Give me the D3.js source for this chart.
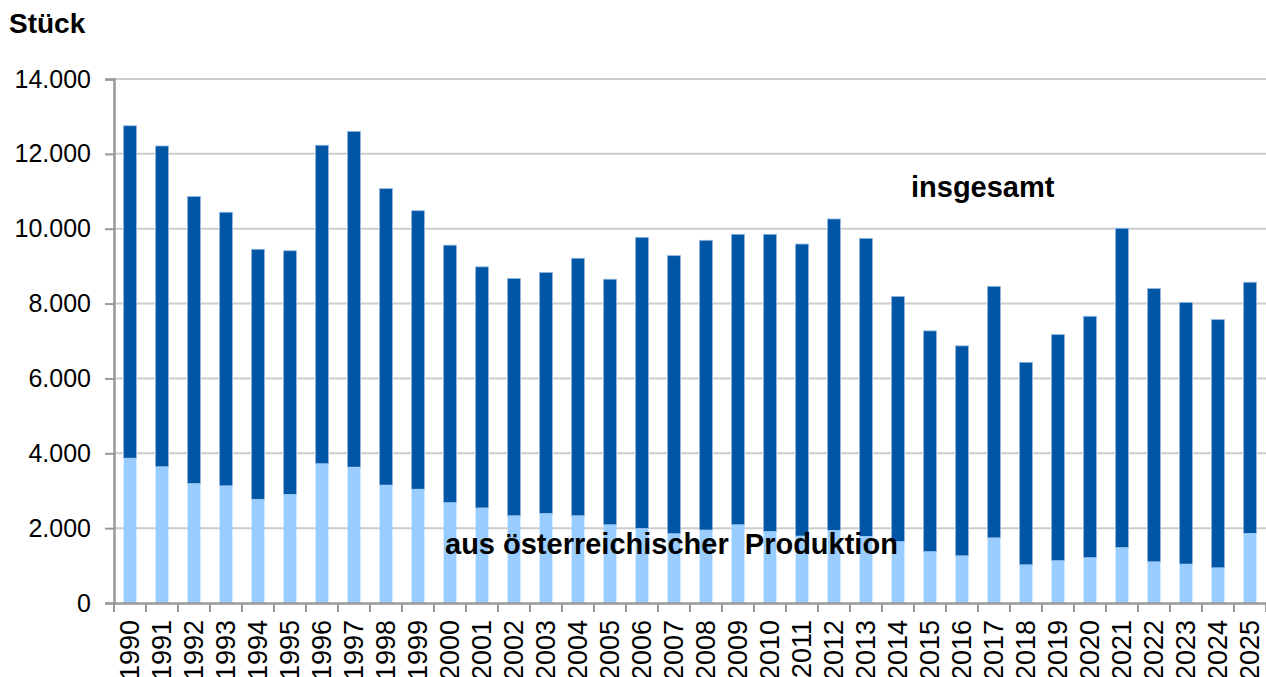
<!DOCTYPE html>
<html lang="de">
<head>
  <meta charset="UTF-8">
  <title>Stück</title>
  <style>
    body { margin: 0; background: #fff; }
    text { font-family: Arial, "Liberation Sans", sans-serif; }
  </style>
</head>
<body>
  <svg width="1266" height="677"></svg>
  <script src="https://d3js.org/d3.v7.min.js"></script>
  <script>

  var years = ['1990','1991','1992','1993','1994','1995','1996','1997','1998','1999',
               '2000','2001','2002','2003','2004','2005','2006','2007','2008','2009',
               '2010','2011','2012','2013','2014','2015','2016','2017','2018','2019',
               '2020','2021','2022','2023','2024','2025'];

  // insgesamt
  var total = [12750, 12210, 10860, 10440, 9450, 9410, 12230, 12600, 11070, 10480,
               9560, 8980, 8670, 8830, 9210, 8650, 9770, 9280, 9690, 9850,
               9850, 9590, 10260, 9740, 8190, 7270, 6870, 8460, 6430, 7170,
               7660, 10010, 8400, 8030, 7570, 8570];

  // aus österreichischer Produktion
  var domestic = [3870, 3640, 3190, 3130, 2770, 2900, 3720, 3630, 3150, 3040,
                  2680, 2540, 2330, 2390, 2330, 2090, 1990, 1850, 1950, 2090,
                  1910, 1790, 1940, 1780, 1640, 1370, 1260, 1740, 1020, 1130,
                  1210, 1480, 1100, 1040, 940, 1860];

  var yTicks = [0, 2000, 4000, 6000, 8000, 10000, 12000, 14000];

  var svg = d3.select('svg');
  var mLeft = 114, mRight = 1266, mTop = 79, mBottom = 603;

  var x = d3.scaleBand().domain(years).range([mLeft, mRight])
    .paddingInner(0.6).paddingOuter(0.3);
  var y = d3.scaleLinear().domain([0, 14000]).range([mBottom, mTop]);

  var de = d3.formatLocale({ decimal: ',', thousands: '.', grouping: [3], currency: ['', ' €'] });
  var fmt = de.format(',');

  // gridlines
  svg.append('g')
    .selectAll('line')
    .data(yTicks.slice(1))
    .enter()
    .append('line')
    .attr('x1', mLeft).attr('x2', mRight)
    .attr('y1', function(d) { return y(d); })
    .attr('y2', function(d) { return y(d); })
    .attr('stroke', '#cccccc')
    .attr('stroke-width', 2);

  // bars: total behind, domestic on top
  var step = x.step();
  svg.append('g')
    .selectAll('rect')
    .data(years)
    .enter()
    .append('rect')
    .attr('x', function(d) { return x(d); })
    .attr('width', x.bandwidth())
    .attr('y', function(d, i) { return y(total[i]); })
    .attr('height', function(d, i) { return y(domestic[i]) - y(total[i]); })
    .attr('fill', '#0055a5')
    .attr('stroke', '#8fb6e0')
    .attr('stroke-width', 0.8);

  svg.append('g')
    .selectAll('rect')
    .data(years)
    .enter()
    .append('rect')
    .attr('x', function(d) { return x(d); })
    .attr('width', x.bandwidth())
    .attr('y', function(d, i) { return y(domestic[i]); })
    .attr('height', function(d, i) { return mBottom - y(domestic[i]); })
    .attr('fill', '#99ccff');

  // y axis
  var yAxis = svg.append('g')
    .attr('transform', 'translate(' + mLeft + ',0)')
    .call(d3.axisLeft(y).tickValues(yTicks).tickFormat(fmt).tickSize(9).tickPadding(14));
  yAxis.select('.domain').attr('stroke', '#999999').attr('stroke-width', 2.5);
  yAxis.selectAll('.tick line').attr('stroke', '#999999').attr('stroke-width', 2);
  yAxis.selectAll('.tick text')
    .attr('font-size', 25).attr('fill', '#000')
    .style('font-family', 'Arial, "Liberation Sans", sans-serif');

  // x axis
  var xAxis = svg.append('g')
    .attr('transform', 'translate(0,' + mBottom + ')')
    .call(d3.axisBottom(x).tickSize(0).tickSizeOuter(0));
  xAxis.select('.domain').attr('stroke', '#999999').attr('stroke-width', 2.5);
  xAxis.selectAll('.tick text')
    .attr('font-size', 27).attr('fill', '#000')
    .style('font-family', 'Arial, "Liberation Sans", sans-serif')
    .attr('transform', 'rotate(-90)')
    .attr('text-anchor', 'end')
    .attr('x', -17)
    .attr('y', 0)
    .attr('dy', '0.35em');

  // category boundary ticks
  svg.append('g')
    .selectAll('line')
    .data(years.concat(['end']))
    .enter()
    .append('line')
    .attr('x1', function(d, i) { return mLeft + i * step; })
    .attr('x2', function(d, i) { return mLeft + i * step; })
    .attr('y1', mBottom).attr('y2', mBottom + 9)
    .attr('stroke', '#999999')
    .attr('stroke-width', 2);

  // labels
  svg.append('text')
    .attr('x', 9).attr('y', 33)
    .attr('font-size', 28).attr('font-weight', 'bold')
    .text('Stück');

  svg.append('text')
    .attr('x', 911).attr('y', 197)
    .attr('font-size', 29).attr('font-weight', 'bold')
    .text('insgesamt');

  svg.append('text')
    .attr('x', 445).attr('y', 554)
    .attr('font-size', 29).attr('font-weight', 'bold')
    .attr('xml:space', 'preserve')
    .style('white-space', 'pre')
    .text('aus österreichischer  Produktion');

  </script>
</body>
</html>
